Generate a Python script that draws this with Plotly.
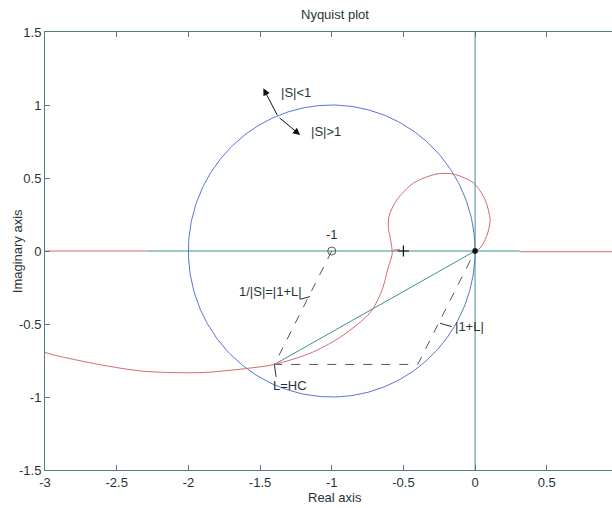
import plotly.graph_objects as go
import numpy as np

# ---- data ----
xtick_vals = [-3, -2.5, -2, -1.5, -1, -0.5, 0, 0.5]
xtick_text = ["-3", "-2.5", "-2", "-1.5", "-1", "-0.5", "0", "0.5"]
ytick_vals = [-1.5, -1, -0.5, 0, 0.5, 1, 1.5]
ytick_text = ["-1.5", "-1", "-0.5", "0", "0.5", "1", "1.5"]

# Nyquist curve of L
L_re = [-3.0, -2.94, -2.61, -2.33, -2.10, -1.87, -1.58, -1.40, -1.15, -0.94,
        -0.73, -0.65, -0.605, -0.578, -0.59, -0.605, -0.60, -0.546, -0.43,
        -0.27, -0.15, -0.01, 0.07, 0.105, 0.08, 0.035, 0.0]
L_im = [-0.695, -0.712, -0.78, -0.822, -0.833, -0.831, -0.803, -0.777, -0.70,
        -0.59, -0.42, -0.27, -0.11, -0.02, 0.08, 0.16, 0.24, 0.35, 0.465,
        0.527, 0.527, 0.465, 0.35, 0.21, 0.10, 0.02, 0.0]
hook_re = [-0.572, -0.525]
hook_im = [0.005, 0.012]

# real-axis segments
left_red_re = [-3.0, -2.29]
mid_axis_re = [-2.29, 0.31]
right_red_re = [0.31, 1.0]

# parallelogram -1 -> L -> L+1 -> 0
para_re = [-1.0, -1.40, -0.40, 0.0]
para_im = [0.0, -0.777, -0.777, 0.0]
# solid diagonal L -> 0
diag_re = [-1.40, 0.0]
diag_im = [-0.777, 0.0]

# unit circle centred at -1
circle_center = -1.0
circle_radius = 1.0

# ---- colours ----
RED = "#d46a6a"
BLUE = "#5a74d4"
TEAL = "#3f8f8f"
FRAME = "#4f7f7f"
TXT = "#1f3535"
DASH = "#555555"

fig = go.Figure()

t = np.linspace(0, 2 * np.pi, 400)
fig.add_trace(go.Scatter(x=circle_center + circle_radius * np.cos(t),
                         y=circle_radius * np.sin(t), mode="lines",
                         line=dict(color=BLUE, width=1)))

fig.add_trace(go.Scatter(x=left_red_re, y=[0, 0], mode="lines",
                         line=dict(color=RED, width=1)))
fig.add_trace(go.Scatter(x=right_red_re, y=[-0.005, -0.005], mode="lines",
                         line=dict(color=RED, width=1)))
fig.add_trace(go.Scatter(x=mid_axis_re, y=[0, 0], mode="lines",
                         line=dict(color=TEAL, width=1)))
fig.add_trace(go.Scatter(x=[0, 0], y=[-1.5, 1.5], mode="lines",
                         line=dict(color=TEAL, width=1)))

fig.add_trace(go.Scatter(x=para_re, y=para_im, mode="lines",
                         line=dict(color=DASH, width=1, dash="dash")))
fig.add_trace(go.Scatter(x=diag_re, y=diag_im, mode="lines",
                         line=dict(color=TEAL, width=1)))

fig.add_trace(go.Scatter(x=L_re, y=L_im, mode="lines",
                         line=dict(color=RED, width=1, shape="spline", smoothing=0.8)))
fig.add_trace(go.Scatter(x=hook_re, y=hook_im, mode="lines",
                         line=dict(color=RED, width=1)))

# markers
fig.add_trace(go.Scatter(x=[-1], y=[0], mode="markers",
                         marker=dict(symbol="circle-open", size=8, color=DASH,
                                     line=dict(width=1))))
fig.add_trace(go.Scatter(x=[-0.5], y=[0], mode="markers",
                         marker=dict(symbol="cross-thin", size=8,
                                     line=dict(width=1.2, color="#111111"))))
fig.add_trace(go.Scatter(x=[0], y=[0], mode="markers",
                         marker=dict(symbol="asterisk", size=5,
                                     line=dict(width=1.5, color="#111111"))))

# leader lines
leaders = [
    ([-1.221, -1.151], [-0.331, -0.312]),
    ([-0.244, -0.163], [-0.495, -0.518]),
    ([-1.40, -1.388], [-0.777, -0.862]),
]
for lx, ly in leaders:
    fig.add_trace(go.Scatter(x=lx, y=ly, mode="lines",
                             line=dict(color=TXT, width=1)))

font = dict(family="Liberation Sans, Arial, sans-serif", size=13, color=TXT)

# arrows
for (hx, hy) in [(-1.477, 1.114), (-1.221, 0.795)]:
    fig.add_annotation(x=hx, y=hy, ax=-1.374, ay=0.92, xref="x", yref="y",
                       axref="x", ayref="y", showarrow=True, arrowhead=2,
                       arrowsize=1.4, arrowwidth=1, arrowcolor="#111111", text="")

labels = [
    ("|S|<1", -1.368, 1.089),
    ("|S|>1", -1.158, 0.817),
    ("-1", -1.0, 0.11),
    ("1/|S|=|1+L|", -1.663, -0.279),
    ("|1+L|", -0.151, -0.518),
    ("L=HC", -1.425, -0.918),
]
for txt, lx, ly in labels:
    fig.add_annotation(x=lx, y=ly, text=txt, showarrow=False, xref="x", yref="y",
                       xanchor="center" if txt == "-1" else "left",
                       yanchor="middle", font=font)

fig.add_annotation(x=0.511, y=1.041, xref="paper", yref="paper", text="Nyquist plot",
                   showarrow=False, xanchor="center", yanchor="middle", font=font)
fig.add_annotation(x=0.511, y=-0.062, xref="paper", yref="paper", text="Real axis",
                   showarrow=False, xanchor="center", yanchor="middle", font=font)
fig.add_annotation(x=-0.049, y=0.5, xref="paper", yref="paper", text="Imaginary axis",
                   showarrow=False, xanchor="center", yanchor="middle", textangle=-90,
                   font=font)

fig.update_layout(
    width=612, height=508,
    margin=dict(l=45, r=0, t=32, b=38),
    paper_bgcolor="white", plot_bgcolor="white",
    showlegend=False,
    font=font,
    xaxis=dict(range=[-3, 0.955], tickvals=xtick_vals, ticktext=xtick_text,
               ticks="inside", ticklen=5, tickcolor=FRAME, showline=True,
               linecolor=FRAME, linewidth=1, mirror="ticks", showgrid=False,
               zeroline=False, tickfont=font),
    yaxis=dict(range=[-1.5, 1.5], tickvals=ytick_vals, ticktext=ytick_text,
               ticks="inside", ticklen=5, tickcolor=FRAME, showline=True,
               linecolor=FRAME, linewidth=1, mirror=False, showgrid=False,
               zeroline=False, tickfont=font),
)

fig.write_html("out.html")
